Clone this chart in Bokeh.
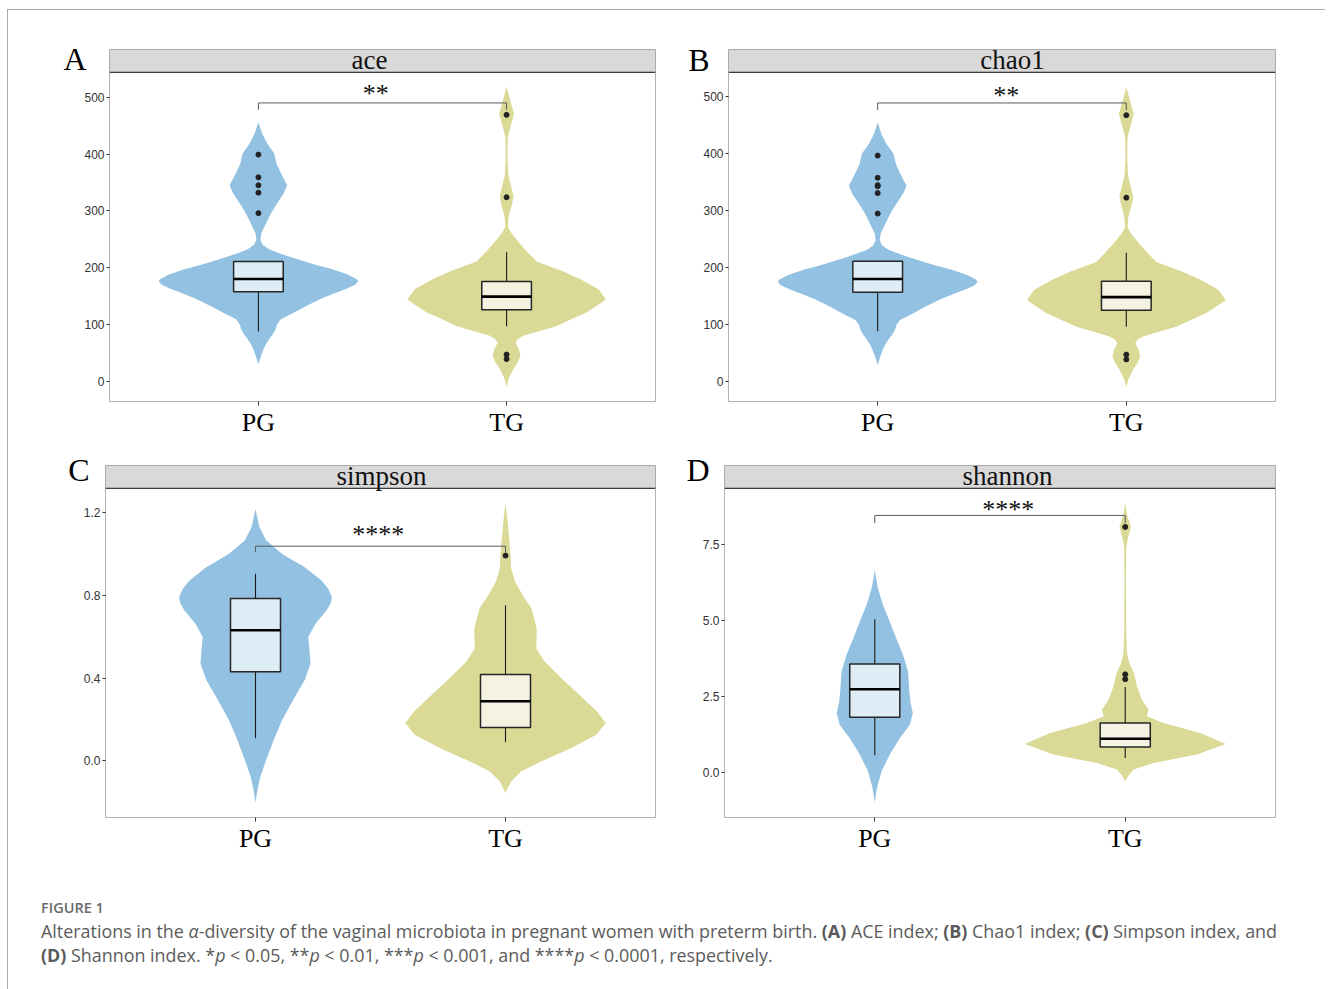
import numpy as np
from bokeh.plotting import figure
from bokeh.models import FixedTicker, PrintfTickFormatter, CustomJSTickFormatter, LinearAxis, Div
from bokeh.layouts import column, row
from bokeh.embed import file_html
from bokeh.resources import INLINE
from bokeh.core.properties import value

# ---------------------------------------------------------------- data
groups = ["PG", "TG"]
group_pos = [1, 2]

# violin outlines: index value and half-width (in category units)
ace_pg_y = [456, 436, 418, 401, 383, 366, 345, 331, 313, 296, 278, 261, 249, 240, 232, 226, 220, 214,
            205, 197, 188, 180, 176, 170, 163, 156, 145, 132, 120, 109, 100, 91.5, 83, 74, 65, 56.7, 44.8, 30]
ace_pg_w = [0, 0.015, 0.036, 0.064, 0.073, 0.091, 0.116, 0.102, 0.075, 0.051, 0.031, 0.012, 0.008, 0.018,
            0.045, 0.081, 0.12, 0.164, 0.23, 0.298, 0.36, 0.395, 0.402, 0.39, 0.355, 0.312, 0.25, 0.191,
            0.14, 0.09, 0.075, 0.07, 0.058, 0.043, 0.03, 0.021, 0.011, 0]
ace_tg_y = [518.6, 494, 471, 447, 430, 412, 389, 363, 342, 325, 307, 290, 272, 261, 243, 226, 211, 194,
            179, 162, 144, 132, 121, 109, 97, 88, 80, 74, 68, 56, 44.8, 33, 21.5, 4, -10.5]
ace_tg_w = [0, 0.015, 0.03, 0.015, 0.005, 0.004, 0.004, 0.007, 0.019, 0.028, 0.019, 0.008, 0.005, 0.019,
            0.052, 0.087, 0.121, 0.224, 0.3, 0.37, 0.4, 0.36, 0.322, 0.26, 0.2, 0.13, 0.067, 0.045, 0.036,
            0.05, 0.056, 0.045, 0.027, 0.008, 0]

chao1_pg_y = [455, 435, 417, 400, 382, 365, 344, 330, 312, 295, 277, 260, 248, 239, 231, 225, 219, 213,
              204, 196, 187, 179, 175, 169, 162, 155, 144, 131, 119, 108, 99, 90.5, 82, 73, 64, 56, 44, 29]
chao1_pg_w = ace_pg_w
chao1_tg_y = [517.5, 493, 470, 446, 429, 411, 388, 362, 341, 324, 306, 289, 271, 260, 242, 225, 210, 193,
              178, 161, 143, 131, 120, 108, 96, 87, 79, 73, 67, 55, 44, 32, 20.5, 3, -11]
chao1_tg_w = ace_tg_w

simpson_pg_y = [1.216, 1.128, 1.064, 1.0, 0.936, 0.872, 0.832, 0.791, 0.759, 0.727, 0.663, 0.599, 0.535,
                0.471, 0.391, 0.295, 0.199, 0.102, 0.006, -0.074, -0.138, -0.202]
simpson_pg_w = [0, 0.016, 0.043, 0.107, 0.197, 0.264, 0.291, 0.306, 0.3, 0.284, 0.24, 0.211, 0.216, 0.22,
                0.197, 0.151, 0.107, 0.073, 0.043, 0.02, 0.008, 0]
simpson_tg_y = [1.248, 1.152, 1.072, 0.992, 0.928, 0.864, 0.8, 0.736, 0.64, 0.543, 0.479, 0.399, 0.319,
                0.238, 0.183, 0.126, 0.063, -0.002, -0.05, -0.098, -0.154]
simpson_tg_w = [0, 0.009, 0.015, 0.02, 0.023, 0.039, 0.069, 0.104, 0.125, 0.123, 0.157, 0.224, 0.296,
                0.367, 0.401, 0.363, 0.263, 0.143, 0.064, 0.023, 0]

shannon_pg_y = [6.646, 6.04, 5.5, 4.95, 4.4, 3.86, 3.31, 2.76, 2.33, 1.94, 1.56, 1.12, 0.58, 0.03, -0.51, -1.0]
shannon_pg_w = [0, 0.013, 0.033, 0.06, 0.086, 0.113, 0.133, 0.137, 0.142, 0.152, 0.14, 0.1, 0.06, 0.027,
                0.009, 0]
shannon_tg_y = [8.85, 8.45, 8.07, 7.74, 7.41, 6.32, 4.68, 3.91, 3.58, 3.26, 2.82, 2.38, 2.06, 1.84, 1.62,
                1.29, 0.93, 0.58, 0.30, 0.09, -0.13, -0.30]
shannon_tg_w = [0, 0.008, 0.023, 0.012, 0.004, 0.003, 0.004, 0.007, 0.017, 0.035, 0.047, 0.067, 0.093,
                0.086, 0.153, 0.299, 0.402, 0.286, 0.113, 0.033, 0.011, 0]

# box statistics: lower whisker, Q1, median, Q3, upper whisker (PG, TG)
ace_box = [[87.5, 157.5, 180, 211, 211], [97, 126, 149, 175.6, 227]]
chao1_box = [[88, 156.5, 180, 211, 211], [96, 125, 148, 176, 226]]
simpson_box = [[0.11, 0.431, 0.631, 0.784, 0.904], [0.091, 0.162, 0.288, 0.418, 0.751]]
shannon_box = [[0.56, 1.81, 2.73, 3.56, 5.03], [0.47, 0.83, 1.10, 1.62, 2.80]]

# outliers
ace_out = [[399, 359, 345, 332, 296], [469, 324, 47, 39]]
chao1_out = [[397, 358, 345, 343, 331, 295], [468, 323, 47, 38.5]]
simpson_out = [[], [0.992]]
shannon_out = [[], [8.07, 3.22, 3.06]]

# significance brackets: bar height, tick end, label
ace_sig = [490, 478, "**"]
chao1_sig = [489.5, 477, "**"]
simpson_sig = [1.037, 1.008, "****"]
shannon_sig = [8.45, 8.2, "****"]

ace_ticks = [0, 100, 200, 300, 400, 500]
chao1_ticks = [0, 100, 200, 300, 400, 500]
simpson_ticks = [0.0, 0.4, 0.8, 1.2]
shannon_ticks = [0.0, 2.5, 5.0, 7.5]

# ---------------------------------------------------------------- styling
PG_FILL, TG_FILL = "#93C1E1", "#DAD996"
PG_BOX, TG_BOX = "#DEECF6", "#F4F3E2"
SERIF = "Liberation Serif"
SANS = "Liberation Sans"


def make_panel(letter, name, lo, hi, panel_px, ticks, fmt, violins, boxes, outs, sig,
               sig_x, sig_dy, name_x, letter_dy, letter_standoff,
               width, height, mb_left, mb_right, mb_top, mb_bottom):
    strip_px = 23
    upp = (hi - lo) / panel_px              # value units per pixel
    top = hi + strip_px * upp

    p = figure(width=width, height=height, x_range=(0.4, 2.6), y_range=(lo, top),
               output_backend="svg", toolbar_location=None, title=None,
               min_border_left=mb_left, min_border_right=mb_right,
               min_border_top=mb_top, min_border_bottom=mb_bottom)
    p.grid.visible = False
    p.outline_line_color = "#b3b3b3"
    p.outline_line_width = 1
    p.background_fill_color = "white"
    p.border_fill_color = "white"

    # violins
    fills = [PG_FILL, TG_FILL]
    for c, (vy, vw), col in zip(group_pos, violins, fills):
        vy = np.asarray(vy, float)
        vw = np.asarray(vw, float)
        p.harea(x1=c - vw, x2=c + vw, y=vy, fill_color=col, fill_alpha=1.0)

    # boxplots
    bfills = [PG_BOX, TG_BOX]
    hw = 0.1
    for c, b, col in zip(group_pos, boxes, bfills):
        wl, q1, med, q3, wh = b
        p.segment(x0=[c, c], y0=[wl, q3], x1=[c, c], y1=[q1, wh], line_color="#1a1a1a", line_width=1.1)
        p.quad(left=[c - hw], right=[c + hw], bottom=[q1], top=[q3], fill_color=col,
               line_color="#262626", line_width=1.5)
        p.segment(x0=[c - hw], y0=[med], x1=[c + hw], y1=[med], line_color="black", line_width=2.6)

    # outliers
    for c, o in zip(group_pos, outs):
        if o:
            p.scatter(x=[c] * len(o), y=o, size=5, color="#222222")

    # significance bracket
    bar, tick_end, stars = sig
    p.line(x=[group_pos[0], group_pos[0], group_pos[1], group_pos[1]],
           y=[tick_end, bar, bar, tick_end], line_color="#5a5a5a", line_width=1)
    p.text(x=[sig_x], y=[bar + sig_dy * upp], text=[stars], text_font=value(SERIF),
           text_font_size="26px", text_align="center", text_baseline="middle", text_color="#111111")

    # facet strip
    p.quad(left=[0.4], right=[2.6], bottom=[hi], top=[top], fill_color="#d9d9d9",
           line_color="#9a9a9a", line_width=1)
    p.segment(x0=[0.4], y0=[hi], x1=[2.6], y1=[hi], line_color="#3f3f3f", line_width=1.3)
    p.text(x=[name_x], y=[hi + 12 * upp], text=[name], text_font=value(SERIF),
           text_font_size="27px", text_align="center", text_baseline="alphabetic", text_color="#111111")

    # axes
    xa = p.xaxis[0]
    xa.ticker = FixedTicker(ticks=group_pos)
    xa.major_label_overrides = {pos: g for pos, g in zip(group_pos, groups)}
    xa.major_label_text_font = SERIF
    xa.major_label_text_font_size = "26px"
    xa.major_label_text_color = "black"
    xa.axis_line_color = None
    xa.major_tick_line_color = "#333333"
    xa.major_tick_out = 4
    xa.major_tick_in = 0
    xa.minor_tick_line_color = None
    xa.major_label_standoff = 2

    ya = p.yaxis[0]
    ya.ticker = FixedTicker(ticks=ticks)
    ya.formatter = PrintfTickFormatter(format=fmt)
    ya.major_label_text_font = SANS
    ya.major_label_text_font_size = "12px"
    ya.major_label_text_color = "#333333"
    ya.axis_line_color = None
    ya.major_tick_line_color = "#333333"
    ya.major_tick_out = 3
    ya.major_tick_in = 0
    ya.minor_tick_line_color = None
    ya.major_label_standoff = 2

    # panel letter, set beside the strip on an outer left axis
    la = LinearAxis(ticker=FixedTicker(ticks=[top - letter_dy * upp]),
                    formatter=CustomJSTickFormatter(code="return '%s';" % letter))
    la.axis_line_color = None
    la.major_tick_line_color = None
    la.minor_tick_line_color = None
    la.major_tick_out = 0
    la.major_tick_in = 0
    la.major_label_standoff = letter_standoff
    la.major_label_text_font = SERIF
    la.major_label_text_font_size = "32px"
    la.major_label_text_color = "black"
    p.add_layout(la, "left")
    return p


pA = make_panel("A", "ace", -35.6, 543.8, 331, ace_ticks, "%d",
                [(ace_pg_y, ace_pg_w), (ace_tg_y, ace_tg_w)], ace_box, ace_out, ace_sig,
                1.473, 9, 1.448, 9.5, -5, 674, 435, 101, 27, 39, 42)
pB = make_panel("B", "chao1", -35.5, 543.3, 331, chao1_ticks, "%d",
                [(chao1_pg_y, chao1_pg_w), (chao1_tg_y, chao1_tg_w)], chao1_box, chao1_out, chao1_sig,
                1.517, 7.5, 1.542, 11, -9, 643, 435, 46, 50, 37, 44)
pC = make_panel("C", "simpson", -0.273, 1.316, 330, simpson_ticks, "%.1f",
                [(simpson_pg_y, simpson_pg_w), (simpson_tg_y, simpson_tg_w)], simpson_box, simpson_out,
                simpson_sig, 1.491, 12.2, 1.504, 4.5, -9, 672, 435, 97, 25, 20, 62)
pD = make_panel("D", "shannon", -1.49, 9.34, 331, shannon_ticks, "%.1f",
                [(shannon_pg_y, shannon_pg_w), (shannon_tg_y, shannon_tg_w)], shannon_box, shannon_out,
                shannon_sig, 1.533, 6.1, 1.53, 5, -10, 645, 435, 44, 50, 18, 63)

caption = Div(
    text=(
        '<div style="font-family:\'Open Sans\',sans-serif;color:#5b5b5b;padding:14px 0 0 28px;">'
        '<div style="font-size:14.5px;line-height:18px;font-weight:600;color:#6a6a6a;">FIGURE 1</div>'
        '<div style="font-size:17.9px;line-height:24px;margin-top:2px;white-space:nowrap;">'
        'Alterations in the <i>&alpha;</i>-diversity of the vaginal microbiota in pregnant women with '
        'preterm birth. <b>(A)</b> ACE index; <b>(B)</b> Chao1 index; <b>(C)</b> Simpson index, and<br>'
        '<b>(D)</b> Shannon index. *<i>p</i> &lt; 0.05, **<i>p</i> &lt; 0.01, ***<i>p</i> &lt; 0.001, '
        'and ****<i>p</i> &lt; 0.0001, respectively.</div></div>'
    ),
    width=1300, height=100)

layout = column(row(pA, pB), row(pC, pD), caption, margin=(9, 0, 0, 7),
                styles={"border-top": "1px solid #a8a8a8", "border-left": "1px solid #a8a8a8"})

open("out.html", "w").write(file_html(layout, INLINE))
